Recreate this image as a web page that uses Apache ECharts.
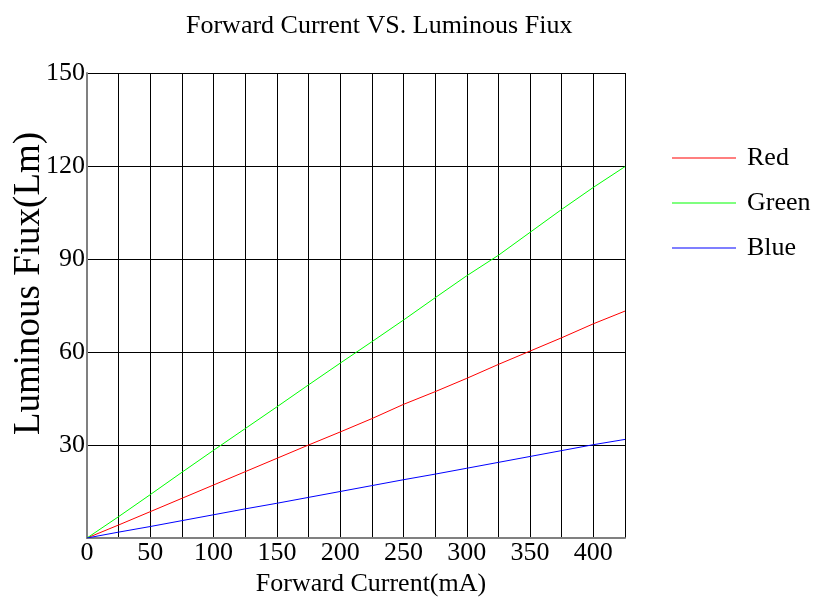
<!DOCTYPE html>
<html>
<head>
<meta charset="utf-8">
<script src="https://cdn.jsdelivr.net/npm/echarts@6/dist/echarts.min.js"></script>
<style>
html,body{margin:0;padding:0;background:#fff;}
#chart{width:819px;height:607px;}
</style>
</head>
<body>
<div id="chart"></div>
<script>
// Data
const currents = [0, 25, 50, 75, 100, 125, 150, 175, 200, 225, 250, 275, 300, 325, 350, 375, 400, 425];
const redFlux   = [0, 4.2, 8.5, 12.8, 17.1, 21.4, 25.7, 30.0, 34.2, 38.5, 43.1, 47.2, 51.5, 56.0, 60.3, 64.6, 69.1, 73.2];
const greenFlux = [0, 6.9, 14.0, 21.2, 28.3, 35.3, 42.3, 49.4, 56.4, 63.3, 70.3, 77.5, 84.6, 91.2, 98.6, 106.0, 113.1, 119.8];
const blueFlux  = [0, 1.9, 3.7, 5.6, 7.5, 9.4, 11.2, 13.1, 15.0, 16.9, 18.8, 20.6, 22.5, 24.4, 26.3, 28.2, 30.1, 31.8];
const seriesNames = ['Red', 'Green', 'Blue'];
const seriesColors = ['#ff0000', '#00ff00', '#0000ff'];
const xTickLabels = ['0', '50', '100', '150', '200', '250', '300', '350', '400'];
const yTickLabels = ['30', '60', '90', '120', '150'];
const titleText = 'Forward Current VS. Luminous Fiux';
const xName = 'Forward Current(mA)';
const yName = 'Luminous Fiux(Lm)';

const FONT = "'Liberation Serif', 'Times New Roman', serif";
const pair = (xs, ys) => xs.map((x, i) => [x, ys[i]]);
const seriesData = [redFlux, greenFlux, blueFlux];

const chart = echarts.init(document.getElementById('chart'), null, {renderer: 'canvas'});
chart.setOption({
  backgroundColor: '#ffffff',
  animation: false,
  title: {
    text: titleText,
    left: 186,
    top: 13,
    padding: 0,
    textStyle: {fontFamily: FONT, fontSize: 26, fontWeight: 'normal', color: '#000'}
  },
  legend: {
    orient: 'vertical',
    left: 672,
    top: 145,
    padding: 0,
    icon: 'rect',
    itemWidth: 64,
    itemHeight: 1,
    itemGap: 19,
    data: seriesNames,
    textStyle: {fontFamily: FONT, fontSize: 26, color: '#000', padding: [0, 0, 0, 6]}
  },
  grid: {left: 87, right: 194, top: 73, bottom: 69, containLabel: false, outerBoundsMode: 'none'},
  xAxis: {
    type: 'value',
    min: 0,
    max: 425,
    interval: 25,
    name: xName,
    nameLocation: 'middle',
    nameGap: 33,
    nameMoveOverlap: false,
    nameTextStyle: {fontFamily: FONT, fontSize: 26, color: '#000', padding: [0, 0, 0, 30]},
    axisLine: {show: true, lineStyle: {color: '#808080', width: 2}},
    axisTick: {show: false},
    axisLabel: {
      margin: 2,
      fontFamily: FONT,
      fontSize: 26,
      color: '#000',
      showMaxLabel: false,
      formatter: v => (xTickLabels.indexOf(String(v)) >= 0 ? String(v) : '')
    },
    splitLine: {show: true, lineStyle: {color: '#000', width: 1}}
  },
  yAxis: {
    type: 'value',
    min: 0,
    max: 150,
    interval: 30,
    name: yName,
    nameLocation: 'middle',
    nameGap: 39,
    nameRotate: 90,
    nameMoveOverlap: false,
    nameTextStyle: {fontFamily: FONT, fontSize: 37, color: '#000', padding: [0, 0, 0, 44]},
    axisLine: {show: true, lineStyle: {color: '#808080', width: 2}},
    axisTick: {show: false},
    axisLabel: {
      margin: 2,
      fontFamily: FONT,
      fontSize: 26,
      color: '#000',
      formatter: v => (yTickLabels.indexOf(String(v)) >= 0 ? String(v) : '')
    },
    splitLine: {show: true, lineStyle: {color: '#000', width: 1}}
  },
  series: seriesNames.map((name, i) => ({
    name: name,
    type: 'line',
    data: pair(currents, seriesData[i]),
    showSymbol: false,
    symbol: 'none',
    smooth: false,
    color: seriesColors[i],
    lineStyle: {color: seriesColors[i], width: 1},
    itemStyle: {color: seriesColors[i]}
  }))
});
</script>
</body>
</html>
